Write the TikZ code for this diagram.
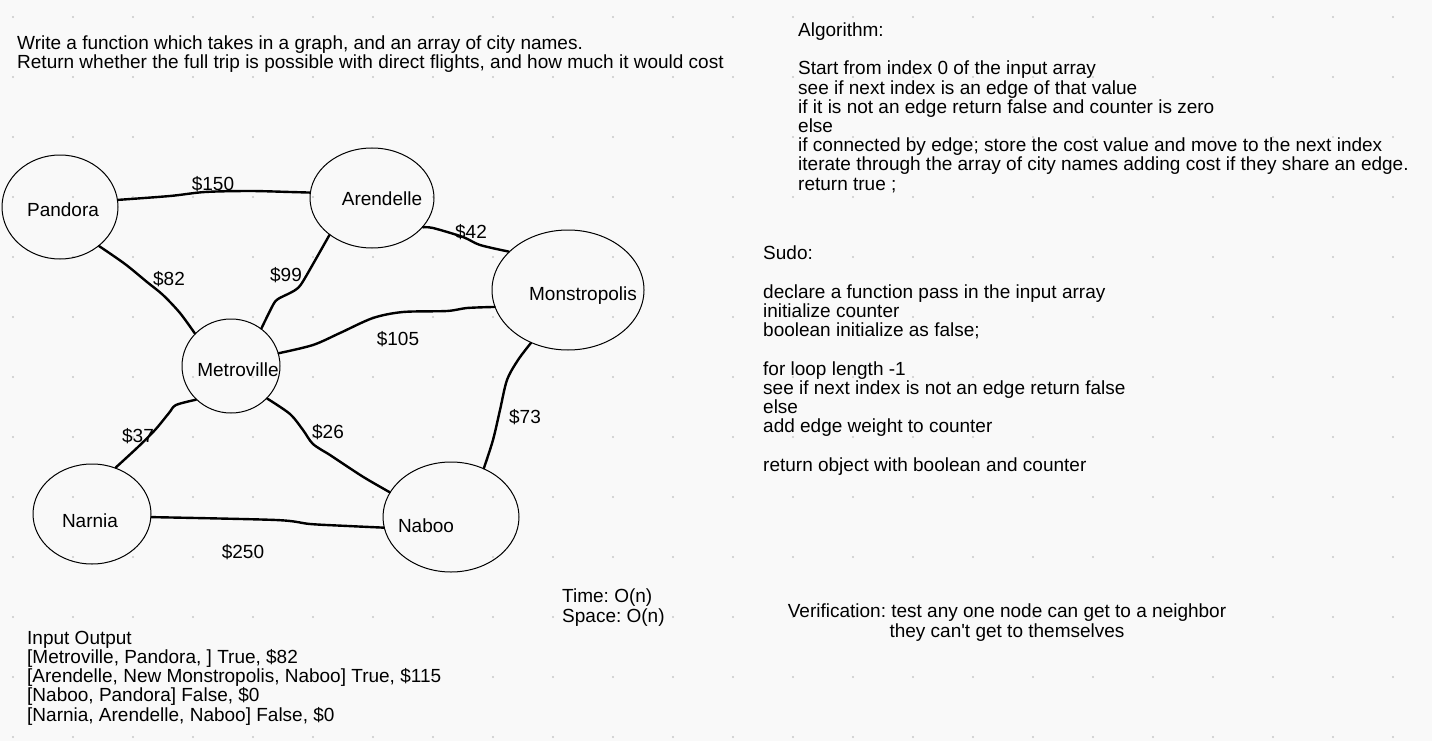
\documentclass[tikz,border=0pt]{standalone}
\usepackage{fontspec}
\setmainfont{Liberation Sans}
\usetikzlibrary{shapes.geometric}
\definecolor{boardbg}{RGB}{249,249,249}
\definecolor{boarddot}{RGB}{200,200,200}
\frenchspacing

\begin{document}
\begin{tikzpicture}[x=1pt, y=-1pt, line cap=round, line join=round,
    font=\fontsize{19}{19.2}\selectfont,
    city/.style={draw, ellipse, line width=1pt, inner sep=0pt},
    flight/.style={line width=2.4pt},
    cost/.style={inner sep=0pt},
    note/.style={align=left, anchor=base west, inner sep=0pt}]

  % Board
  \useasboundingbox[fill=boardbg] (0,0) rectangle (1432,741);
  \foreach \i in {0,...,23} \foreach \j in {0,...,12}
    \fill[boarddot] (13+60*\i, 17+60*\j) circle (1.2pt);

  % Cities
  \node[city, minimum width=116pt, minimum height=104pt,
    label={[xshift=3pt, yshift=-3pt]center:Pandora}] (pan) at (60,207) {};
  \node[city, minimum width=124pt, minimum height=100pt,
    label={[xshift=10pt, yshift=-1pt]center:Arendelle}] (are) at (372,198) {};
  \node[city, minimum width=152pt, minimum height=120pt,
    label={[xshift=15pt, yshift=-6pt]center:Monstropolis}] (mon) at (568,290) {};
  \node[city, minimum width=98pt, minimum height=94pt,
    label={[xshift=7pt, yshift=-4pt]center:Metroville}] (met) at (231,366) {};
  \node[city, minimum width=118pt, minimum height=100pt,
    label={[xshift=-2pt, yshift=-7pt]center:Narnia}] (nar) at (92,514) {};
  \node[city, minimum width=136pt, minimum height=110pt,
    label={[xshift=-25pt, yshift=-9pt]center:Naboo}] (nab) at (451,517) {};

  % Flights
  \draw[flight] plot[smooth, tension=0.5] coordinates
    {(pan.7) (170,196) (205,192) (250,191) (290,192) (are.175)};
  \draw[flight] plot[smooth, tension=0.5] coordinates
    {(pan.-45) (125,264) (147,282) (163,295) (180,313) (met.138)};
  \draw[flight] plot[smooth, tension=0.5] coordinates
    {(are.221) (305,278) (298,288) (290,293) (278,299) (273,305) (met.51)};
  \draw[flight] plot[smooth, tension=0.5] coordinates
    {(are.-30) (433,228) (463,237) (480,245) (mon.147)};
  \draw[flight] plot[smooth, tension=0.5] coordinates
    {(met.15) (313,345) (340,333) (373,318) (403,312) (447,311) (467,308) (mon.193)};
  \draw[flight] plot[smooth, tension=0.5] coordinates
    {(met.224) (176,405) (169,413) (155,430) (138,447) (nar.63)};
  \draw[flight] plot[smooth, tension=0.5] coordinates
    {(met.318) (290,414) (303,430) (313,444) (330,455) (345,465) (365,478) (nab.158)};
  \draw[flight] plot[smooth, tension=0.5] coordinates
    {(mon.235) (518,360) (507,380) (500,410) (493,440) (nab.56)};
  \draw[flight] plot[smooth, tension=0.5] coordinates
    {(nar.-3) (276,520) (310,524) (348,526) (nab.189)};

  % Costs
  \node[cost] (c150) at (213,184) {\$150};
  \node[cost] (c82) at (169,279) {\$82};
  \node[cost] (c99) at (286,275) {\$99};
  \node[cost] (c42) at (471,232) {\$42};
  \node[cost] (c105) at (398,339) {\$105};
  \node[cost] (c37) at (138,436) {\$37};
  \node[cost] (c26) at (328,432) {\$26};
  \node[cost] (c73) at (525,417) {\$73};
  \node[cost] (c250) at (243,552) {\$250};

  % Notes (placed by the baseline of their last line)
  \node[note] (task) at (17,69) {Write a function which takes in a graph, and an array of city names.\\
    Return whether the full trip is possible with direct flights, and how much it would cost};
  \node[note] (algo) at (798,190) {Algorithm:\\[19.2pt]
    Start from index 0 of the input array\\
    see if next index is an edge of that value\\
    if it is not an edge return false and counter is zero\\
    else\\
    if connected by edge; store the cost value and move to the next index\\
    iterate through the array of city names adding cost if they share an edge.\\
    return true ;};
  \node[note] (sudo) at (763,471) {Sudo:\\[19.2pt]
    declare a function pass in the input array\\
    initialize counter\\
    boolean initialize as false;\\[19.2pt]
    for loop length -1\\
    see if next index is not an edge return false\\
    else\\
    add edge weight to counter\\[19.2pt]
    return object with boolean and counter};
  \node[note] (cost) at (562,622) {Time: O(n)\\Space: O(n)};
  \node[note, align=center, anchor=base] (check) at (1007,637)
    {Verification: test any one node can get to a neighbor\\they can\textquotesingle t get to themselves};
  \node[note] (tests) at (27,721) {Input Output\\
    {[}Metroville, Pandora, ] True, \$82\\
    {[}Arendelle, New Monstropolis, Naboo] True, \$115\\
    {[}Naboo, Pandora] False, \$0\\
    {[}Narnia, Arendelle, Naboo] False, \$0};
\end{tikzpicture}
\end{document}
